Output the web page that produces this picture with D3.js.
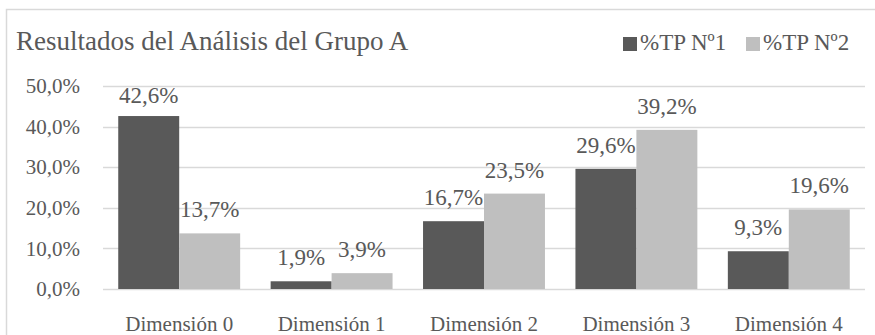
<!DOCTYPE html>
<html>
<head>
<meta charset="utf-8">
<script src="https://cdn.jsdelivr.net/npm/d3@7"></script>
<style>
  body { margin: 0; background: #fff; }
</style>
</head>
<body>
<div id="grafico"></div>
<script>
// datos
const categorias = ["Dimensión 0", "Dimensión 1", "Dimensión 2", "Dimensión 3", "Dimensión 4"]
const series = ["%TP Nº1", "%TP Nº2"]
const tp1 = [42.6, 1.9, 16.7, 29.6, 9.3]
const tp2 = [13.7, 3.9, 23.5, 39.2, 19.6]
const ticksY = [0, 10, 20, 30, 40, 50]
const colores = ["#595959", "#bfbfbf"]

const fuente = "Liberation Serif, Tinos, Times New Roman, Times, serif"
const fmt = v => d3.format(".1f")(v).replace(".", ",") + "%"

const dim = {
  ancho: 875,
  alto: 335,
  margen: { top: 86, right: 10, bottom: 46, left: 103 },
}
dim.grAncho = 865 - dim.margen.left
dim.grAlto = dim.alto - dim.margen.top - dim.margen.bottom

const svg = d3.select("#grafico")
  .append("svg")
    .attr("width", dim.ancho)
    .attr("height", dim.alto)
    .style("font-family", fuente)

// marco del grafico
svg.append("rect")
    .attr("x", 6.5)
    .attr("y", 9.5)
    .attr("width", 880)
    .attr("height", 340)
    .attr("fill", "none")
    .attr("stroke", "#d9d9d9")
    .attr("stroke-width", 1.5)

svg.append("text")
    .attr("x", 16)
    .attr("y", 50)
    .attr("fill", "#595959")
    .style("font-family", fuente)
    .style("font-size", "27px")
    .text("Resultados del Análisis del Grupo A")

const g = svg.append("g")
    .attr("transform", `translate(${dim.margen.left},${dim.margen.top})`)

// escalas
const x0 = d3.scaleBand()
  .domain(categorias)
  .range([0, dim.grAncho])

const x1 = d3.scaleBand()
  .domain(series)
  .range([x0.bandwidth() * 0.1, x0.bandwidth() * 0.9])

const y = d3.scaleLinear()
  .domain([0, 50])
  .range([dim.grAlto, 0])

// rejilla
g.append("g")
  .selectAll("line")
  .data(ticksY)
  .join("line")
    .attr("x1", 0)
    .attr("x2", dim.grAncho)
    .attr("y1", d => Math.round(y(d)) + 0.5)
    .attr("y2", d => Math.round(y(d)) + 0.5)
    .attr("stroke", "#d9d9d9")
    .attr("stroke-width", 1.5)

// eje y
const ejeY = g.append("g")
  .call(d3.axisLeft(y).tickValues(ticksY).tickFormat(fmt).tickSize(0).tickPadding(23))
ejeY.attr("font-family", null)
ejeY.select(".domain").remove()
ejeY.selectAll("text")
    .style("font-family", fuente)
    .style("font-size", "21px")
    .attr("fill", "#595959")

// eje x
const ejeX = g.append("g")
    .attr("transform", `translate(0,${dim.grAlto})`)
  .call(d3.axisBottom(x0).tickSize(0).tickPadding(27))
ejeX.attr("font-family", null)
ejeX.select(".domain").remove()
ejeX.selectAll("text")
    .style("font-family", fuente)
    .style("font-size", "21px")
    .attr("fill", "#595959")

// barras
const filas = categorias.map((c, i) => ({ cat: c, valores: [tp1[i], tp2[i]] }))

const grupos = g.append("g")
  .selectAll("g")
  .data(filas)
  .join("g")
    .attr("transform", d => `translate(${x0(d.cat)},0)`)

grupos.selectAll("rect")
  .data(d => d.valores.map((v, j) => ({ serie: series[j], v, j })))
  .join("rect")
    .attr("x", d => x1(d.serie))
    .attr("y", d => y(d.v))
    .attr("width", x1.bandwidth())
    .attr("height", d => dim.grAlto - y(d.v))
    .attr("fill", d => colores[d.j])

grupos.selectAll("text")
  .data(d => d.valores.map((v, j) => ({ serie: series[j], v, j })))
  .join("text")
    .attr("x", d => x1(d.serie) + x1.bandwidth() / 2)
    .attr("y", d => Math.max(y(d.v) - 16, y(50) + 17))
    .attr("text-anchor", "middle")
    .attr("fill", "#595959")
    .style("font-family", fuente)
    .style("font-size", "23px")
    .text(d => fmt(d.v))

// leyenda
const leyenda = svg.append("g")
  .selectAll("g")
  .data(series)
  .join("g")
    .attr("transform", (d, i) => `translate(${623 + i * 123},37)`)

leyenda.append("rect")
    .attr("width", 14)
    .attr("height", 14)
    .attr("fill", (d, i) => colores[i])

leyenda.append("text")
    .attr("x", 17)
    .attr("y", 13)
    .attr("fill", "#595959")
    .style("font-family", fuente)
    .style("font-size", "23px")
    .text(d => d)
</script>
</body>
</html>
